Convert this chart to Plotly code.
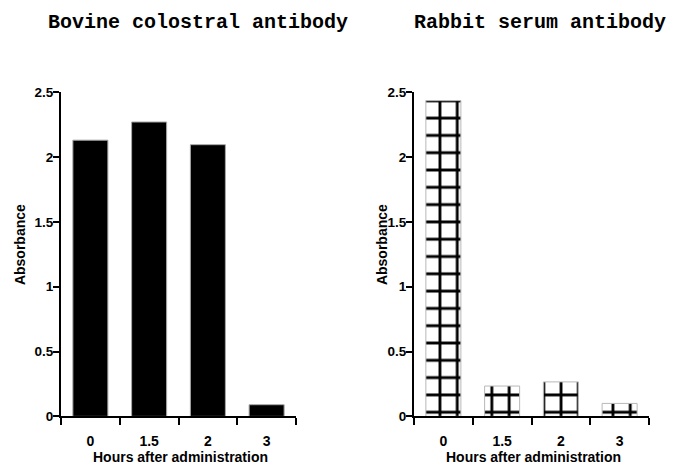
import plotly.graph_objects as go

categories = ["0", "1.5", "2", "3"]
bovine_values = [2.13, 2.27, 2.095, 0.09]
rabbit_values = [2.435, 0.234, 0.266, 0.10]
y_ticks = [0, 0.5, 1, 1.5, 2, 2.5]
y_ticklabels = ["0", "0.5", "1", "1.5", "2", "2.5"]

W, H = 673, 466

def px(x):
    return x / W

def py(y):
    return 1 - y / H

fig = go.Figure()
fig.add_trace(go.Bar(
    x=categories, y=bovine_values, xaxis="x", yaxis="y",
    marker=dict(color="black", line=dict(color="#a8a8a8", width=1)),
    showlegend=False,
))
fig.add_trace(go.Bar(
    x=categories, y=rabbit_values, xaxis="x2", yaxis="y2",
    marker=dict(color="white",
                line=dict(color="#b8b8b8", width=1),
                pattern=dict(shape="+", fgcolor="black", bgcolor="white",
                             size=17.3, solidity=0.3, fillmode="replace")),
    showlegend=False,
))

tickfont_y = dict(family="Liberation Sans, Arial", size=13.5, color="black", weight="bold")
tickfont_x = dict(family="Liberation Sans, Arial", size=14, color="black", weight="bold")

common_x = dict(type="category", range=[-0.5, 3.5], tickson="boundaries",
                showline=True, linecolor="black", linewidth=2,
                ticks="outside", ticklen=7, tickwidth=2, tickcolor="black",
                tickfont=tickfont_x, showgrid=False, zeroline=False,
                ticklabelstandoff=11)
common_y = dict(range=[0, 2.5], tickvals=y_ticks, ticktext=y_ticklabels,
                showline=True, linecolor="black", linewidth=2,
                ticks="outside", ticklen=6, tickwidth=2, tickcolor="black",
                tickfont=tickfont_y, showgrid=False, zeroline=False,
                ticklabelstandoff=-3)

ydom = [py(423), py(88)]
fig.update_layout(
    width=W, height=H,
    margin=dict(l=0, r=0, t=0, b=0),
    paper_bgcolor="white", plot_bgcolor="white",
    bargap=0.404,
    xaxis=dict(common_x, domain=[px(61), px(296)], anchor="y"),
    yaxis=dict(common_y, domain=ydom, anchor="x"),
    xaxis2=dict(common_x, domain=[px(414), px(649)], anchor="y2"),
    yaxis2=dict(common_y, domain=ydom, anchor="x2"),
)

title_font = dict(family="Liberation Mono, Courier New", size=20, color="black", weight="bold")
label_font = dict(family="Liberation Sans, Arial", size=14, color="black", weight="bold")

annotations = [
    dict(text="Bovine colostral antibody", x=px(198), y=py(16), font=title_font),
    dict(text="Rabbit serum antibody", x=px(540), y=py(16), font=title_font),
    dict(text="Hours after administration", x=px(180), y=py(465), font=label_font),
    dict(text="Hours after administration", x=px(533), y=py(465), font=label_font),
    dict(text="Absorbance", x=px(20), y=py(246), font=label_font, textangle=-90),
    dict(text="Absorbance", x=px(382), y=py(246), font=label_font, textangle=-90),
]
for a in annotations:
    fig.add_annotation(xref="paper", yref="paper", showarrow=False,
                       xanchor="center", yanchor="middle", **a)

fig.write_html("out.html")
